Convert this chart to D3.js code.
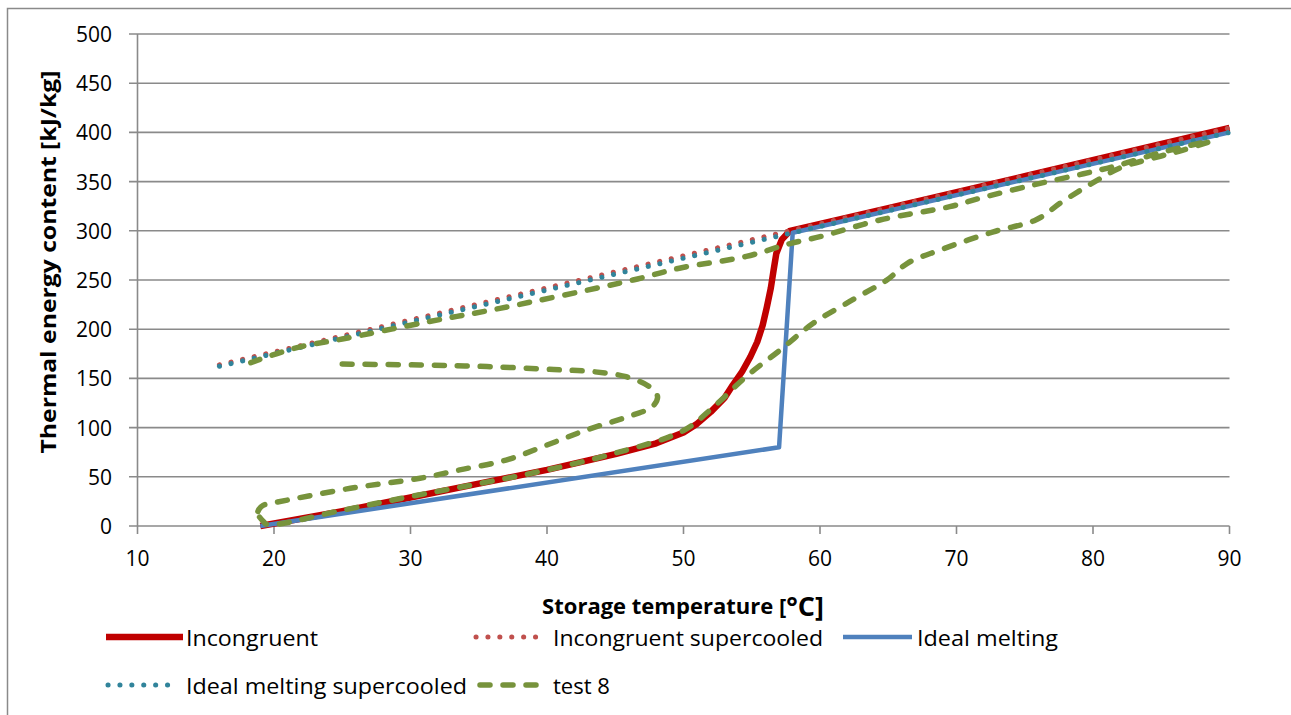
<!DOCTYPE html>
<html>
<head>
<meta charset="utf-8">
<script src="https://cdn.jsdelivr.net/npm/d3@7"></script>
<style>
  html, body { margin: 0; padding: 0; background: #fff; }
  svg { display: block; }
  text { font-family: "Open Sans", "Noto Sans", sans-serif; fill: #000; }
</style>
</head>
<body>
<svg id="chart" width="1291" height="715"></svg>
<script>
// ---------------- data ----------------
const xTicks = [10, 20, 30, 40, 50, 60, 70, 80, 90];
const yTicks = [0, 50, 100, 150, 200, 250, 300, 350, 400, 450, 500];

// Incongruent
const incT = [19, 25, 30, 35, 40, 45, 48, 50, 51, 52, 53, 53.6, 54.3, 54.9, 55.4, 55.8, 56.1, 56.4, 56.6, 56.8, 57.2, 57.8, 65, 75, 90];
const incE = [0, 15, 29, 43, 57, 73, 84, 95, 104, 116, 130, 143, 157, 172, 187, 204, 222, 242, 260, 277, 291, 300, 323, 355.5, 404.5];

// Incongruent supercooled
const incScT = [16, 57.8, 90];
const incScE = [163.8, 300, 404.5];

// Ideal melting
const idealT = [19, 57, 58, 90];
const idealE = [0, 80, 298, 400];

// Ideal melting supercooled
const idealScT = [16, 58, 90];
const idealScE = [162.3, 298, 400];

// test 8
const testT = [25, 30.7, 35.6, 40.5, 43.4, 45.8, 47.5, 48.1, 47.7, 46.3, 42.9, 40, 37, 33.6, 30.7, 25.6, 19.8, 19.2, 18.9, 18.8, 19.1, 18.9, 19.2,
  19.5, 25, 30, 35, 40, 45, 50, 52.2, 54.6, 57.1, 59.5, 62.4, 64.9, 66.4, 68.8, 72.7, 75.8, 77.8, 80.5, 82, 84.7, 86.6, 88.6,
  85.1, 81.7, 79.3, 75.6, 71.7, 69.5, 64.4, 60, 57.8, 54.6, 49.7, 46.3, 36.55, 31.3, 25, 21.9, 19.5, 18.3];
const testE = [164.6, 163.6, 162, 159, 156.8, 151.7, 141.6, 131.4, 121, 112.8, 97.6, 82.3, 67, 57, 48.5, 38.3, 23, 21, 17, 12, 8, 10, 5,
  1.5, 16, 30, 43, 57, 74, 97, 121, 152, 179, 206, 230, 250, 267, 280.5, 299, 311, 330, 353, 364, 375, 382, 391,
  380, 366, 358, 346.5, 333, 324.5, 311, 294, 287, 274, 262, 250, 221.2, 207.6, 190, 182, 172, 166];

const seriesNames = ["Incongruent", "Incongruent supercooled", "Ideal melting", "Ideal melting supercooled", "test 8"];

// ---------------- drawing ----------------
const svg = d3.select("#chart");
const x = d3.scaleLinear().domain([10, 90]).range([137.5, 1229.5]);
const y = d3.scaleLinear().domain([0, 500]).range([526, 34]);
const gridColor = "#8a8a8a";

// outer border
svg.append("rect").attr("x", 7.5).attr("y", 8.5).attr("width", 1290).attr("height", 710)
  .attr("fill", "none").attr("stroke", gridColor).attr("stroke-width", 1.5);

// horizontal gridlines
svg.append("g").selectAll("line").data(yTicks).join("line")
  .attr("x1", 129).attr("x2", x(90)).attr("y1", d => y(d)).attr("y2", d => y(d))
  .attr("stroke", gridColor).attr("stroke-width", 1.6);

// y axis line
svg.append("line").attr("x1", x(10)).attr("x2", x(10)).attr("y1", y(500)).attr("y2", y(0))
  .attr("stroke", gridColor).attr("stroke-width", 1.6);

// x axis ticks
svg.append("g").selectAll("line").data(xTicks).join("line")
  .attr("x1", d => x(d)).attr("x2", d => x(d)).attr("y1", y(0)).attr("y2", y(0) + 8)
  .attr("stroke", gridColor).attr("stroke-width", 1.6);

// tick labels
svg.append("g").selectAll("text").data(yTicks).join("text")
  .attr("x", 112).attr("y", d => y(d)).attr("text-anchor", "end").attr("dominant-baseline", "central")
  .style("font-size", "21px").text(d => d);
svg.append("g").selectAll("text").data(xTicks).join("text")
  .attr("x", d => x(d)).attr("y", 558).attr("text-anchor", "middle").attr("dominant-baseline", "central")
  .style("font-size", "21px").text(d => d);

// axis titles
svg.append("text").attr("transform", "translate(48,262) rotate(-90)")
  .attr("text-anchor", "middle").attr("dominant-baseline", "central")
  .attr("textLength", 383).attr("lengthAdjust", "spacingAndGlyphs")
  .style("font-size", "21px").style("font-weight", "bold").text("Thermal energy content [kJ/kg]");
const xt = svg.append("text").attr("x", 683).attr("y", 605).attr("text-anchor", "middle")
  .attr("dominant-baseline", "central").style("font-weight", "bold");
xt.append("tspan").style("font-size", "22px").text("Storage temperature [");
xt.append("tspan").style("font-size", "27px").text("°C]");

// series styles
const styles = [
  { color: "#c00000", width: 6.5, dash: null, cap: "butt" },
  { color: "#c0504d", width: 5, dash: "0.1 11.8", cap: "round" },
  { color: "#4f81bd", width: 4.5, dash: null, cap: "butt" },
  { color: "#31849b", width: 5, dash: "0.1 11.8", cap: "round" },
  { color: "#77933c", width: 5.5, dash: "10 13", cap: "round" }
];
const seriesData = [
  { t: incT, e: incE, curve: d3.curveLinear },
  { t: incScT, e: incScE, curve: d3.curveLinear },
  { t: idealT, e: idealE, curve: d3.curveLinear },
  { t: idealScT, e: idealScE, curve: d3.curveLinear },
  { t: testT, e: testE, curve: d3.curveCatmullRom.alpha(0.5) }
];

seriesData.forEach((s, i) => {
  const pts = s.t.map((t, k) => [t, s.e[k]]);
  const line = d3.line().x(d => x(d[0])).y(d => y(d[1])).curve(s.curve);
  const st = styles[i];
  svg.append("path").attr("d", line(pts)).attr("fill", "none")
    .attr("stroke", st.color).attr("stroke-width", st.width)
    .attr("stroke-linecap", st.cap).attr("stroke-linejoin", "round")
    .attr("stroke-dasharray", st.dash);
});

// legend
const legendItems = [
  { i: 0, sx: 106, ex: 183, tx: 186, ty: 637, w: 132 },
  { i: 1, sx: 476, ex: 545, tx: 553, ty: 637, w: 270 },
  { i: 2, sx: 843, ex: 912, tx: 917, ty: 637, w: 141 },
  { i: 3, sx: 108, ex: 172, tx: 186, ty: 685, w: 281 },
  { i: 4, sx: 480, ex: 541, tx: 553, ty: 685, w: 57 }
];
legendItems.forEach(li => {
  const st = styles[li.i];
  svg.append("line").attr("x1", li.sx).attr("x2", li.ex).attr("y1", li.ty).attr("y2", li.ty)
    .attr("stroke", st.color).attr("stroke-width", st.width)
    .attr("stroke-linecap", st.cap).attr("stroke-dasharray", st.dash);
  svg.append("text").attr("x", li.tx).attr("y", li.ty).attr("dominant-baseline", "central")
    .attr("textLength", li.w).attr("lengthAdjust", "spacingAndGlyphs")
    .style("font-size", "22px").text(seriesNames[li.i]);
});
</script>
</body>
</html>
